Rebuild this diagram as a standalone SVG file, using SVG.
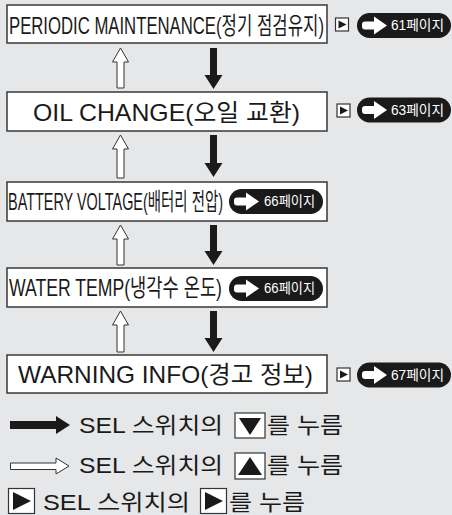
<svg xmlns="http://www.w3.org/2000/svg" width="452" height="515" viewBox="0 0 452 515">
<style>
.bg{fill:#e6e7e9}
.box{fill:#fff;stroke:#383838;stroke-width:1.5}
.t{font-family:"Liberation Sans","Noto Sans CJK KR",sans-serif;fill:#1a1a1a}
.bt{font-size:24px}
.pt{font-size:14px;fill:#fff}
.lt{font-size:22px}
.hol{fill:#fff;stroke:#333;stroke-width:1}
.blk{fill:#1a1a1a}
.ib{fill:#fff;stroke:#333;stroke-width:1.2}
</style>
<defs>
<g id="pill">
<rect x="0" y="0" width="94" height="25" rx="12.5" fill="#1a1a1a"/>
<rect x="5" y="8.5" width="14" height="8" rx="3" fill="#fff"/>
<polygon points="17,3.5 30,12.5 17,21.5" fill="#fff"/>
</g>
<g id="play">
<rect x="0" y="0" width="13" height="13" class="ib"/>
<polygon points="3,2.5 11,6.5 3,10.5" fill="#1a1a1a"/>
</g>
</defs>
<rect class="bg" x="0" y="0" width="452" height="515"/>

<g id="connectors">
<polygon class="hol" points="120.5,48 128.5,62 124,62 124,88 117,88 117,62 112.5,62"/>
<polygon class="blk" points="210,48 217,48 217,75 222.5,75 213.5,89 204.5,75 210,75"/>
<polygon class="hol" points="120.5,135 128.5,149 124,149 124,178 117,178 117,149 112.5,149"/>
<polygon class="blk" points="210,135 217,135 217,163 222.5,163 213.5,177 204.5,163 210,163"/>
<polygon class="hol" points="120.5,225 128.5,239 124,239 124,265 117,265 117,239 112.5,239"/>
<polygon class="blk" points="210,225 217,225 217,251 222.5,251 213.5,265 204.5,251 210,251"/>
<polygon class="hol" points="120.5,311 128.5,325 124,325 124,352 117,352 117,325 112.5,325"/>
<polygon class="blk" points="210,311 217,311 217,338 222.5,338 213.5,352 204.5,338 210,338"/>
</g>

<g id="node-periodic">
<rect class="box" x="7" y="5" width="320" height="38"/>
<text class="t bt" x="9" y="34" textLength="315" lengthAdjust="spacingAndGlyphs">PERIODIC MAINTENANCE(정기 점검유지)</text>
<use href="#play" x="335.5" y="18"/>
<use href="#pill" x="357" y="13"/>
<text class="t pt" x="391" y="30" textLength="53" lengthAdjust="spacingAndGlyphs">61페이지</text>
</g>

<g id="node-oil">
<rect class="box" x="7" y="92" width="320" height="39"/>
<text class="t bt" x="33" y="121" textLength="267" lengthAdjust="spacingAndGlyphs">OIL CHANGE(오일 교환)</text>
<use href="#play" x="337" y="104"/>
<use href="#pill" x="357" y="97.5"/>
<text class="t pt" x="391" y="114.5" textLength="53" lengthAdjust="spacingAndGlyphs">63페이지</text>
</g>

<g id="node-battery">
<rect class="box" x="7" y="182" width="320" height="39"/>
<text class="t bt" x="8" y="210" textLength="215" lengthAdjust="spacingAndGlyphs">BATTERY VOLTAGE(배터리 전압)</text>
<use href="#pill" x="229" y="189"/>
<text class="t pt" x="264" y="206" textLength="51" lengthAdjust="spacingAndGlyphs">66페이지</text>
</g>

<g id="node-water">
<rect class="box" x="7" y="268" width="320" height="39"/>
<text class="t bt" x="9" y="296" textLength="213" lengthAdjust="spacingAndGlyphs">WATER TEMP(냉각수 온도)</text>
<use href="#pill" x="229" y="276"/>
<text class="t pt" x="264" y="293" textLength="51" lengthAdjust="spacingAndGlyphs">66페이지</text>
</g>

<g id="node-warning">
<rect class="box" x="7" y="355" width="320" height="38"/>
<text class="t bt" x="18" y="383" textLength="295" lengthAdjust="spacingAndGlyphs">WARNING INFO(경고 정보)</text>
<use href="#play" x="337" y="368"/>
<use href="#pill" x="357" y="362.5"/>
<text class="t pt" x="391" y="379.5" textLength="53" lengthAdjust="spacingAndGlyphs">67페이지</text>
</g>

<g id="legend">
<polygon class="blk" points="10,421 56,421 56,416 70,425 56,434 56,429 10,429"/>
<text class="t lt" x="79" y="433" textLength="144" lengthAdjust="spacingAndGlyphs">SEL 스위치의</text>
<rect class="ib" x="235" y="413" width="30" height="25"/>
<polygon points="239,418 261,418 250,435" fill="#1a1a1a"/>
<text class="t lt" x="267" y="433" textLength="76" lengthAdjust="spacingAndGlyphs">를 누름</text>

<polygon class="hol" points="10.5,463 56,463 56,458 69,466 56,474 56,469.5 10.5,469.5"/>
<text class="t lt" x="79" y="473" textLength="144" lengthAdjust="spacingAndGlyphs">SEL 스위치의</text>
<rect class="ib" x="235" y="453" width="30" height="26"/>
<polygon points="250,457 262,475 238,475" fill="#1a1a1a"/>
<text class="t lt" x="267" y="473" textLength="76" lengthAdjust="spacingAndGlyphs">를 누름</text>

<rect class="ib" x="8.5" y="488.5" width="26" height="25"/>
<polygon points="13,492 31,501 13,510" fill="#1a1a1a"/>
<text class="t lt" x="43" y="510" textLength="147" lengthAdjust="spacingAndGlyphs">SEL 스위치의</text>
<rect class="ib" x="200.5" y="488.5" width="26" height="25"/>
<polygon points="205,492 223,501 205,510" fill="#1a1a1a"/>
<text class="t lt" x="229" y="510" textLength="76" lengthAdjust="spacingAndGlyphs">를 누름</text>
</g>
</svg>
